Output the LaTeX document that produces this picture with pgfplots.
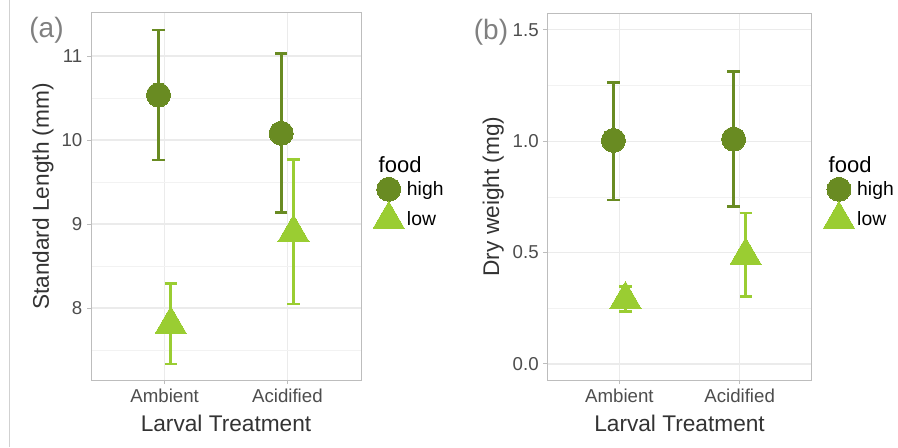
\documentclass[border=0pt]{standalone}
\usepackage{pgfplots}
\pgfplotsset{compat=1.18}
\usepackage{fontspec}
\setmainfont{Liberation Sans}
\definecolor{hi}{HTML}{698B22}
\definecolor{lo}{HTML}{9ACD32}
\definecolor{gridmaj}{HTML}{EBEBEB}
\definecolor{gridmin}{HTML}{F2F2F2}
\definecolor{borderc}{HTML}{BDBDBD}
\definecolor{tickc}{HTML}{4D4D4D}

\pgfplotsset{
  panel/.style={
    scale only axis,
    height=275.25pt,
    clip=false,
    xmin=0.4, xmax=2.6,
    xtick={1,2}, xticklabels={Ambient,Acidified},
    xtick pos=bottom, ytick pos=left,
    axis line style={borderc, line width=0.75pt},
    tick style={borderc, line width=0.75pt},
    tick align=outside, major tick length=3pt, minor tick length=0pt,
    grid=both,
    major grid style={gridmaj, line width=0.9pt},
    minor grid style={gridmin, line width=0.5pt},
    tick label style={font=\fontsize{14}{16}\selectfont, text=tickc},
    label style={font=\fontsize{17}{20}\selectfont, text=black!80},
    /pgf/number format/assume math mode=true,
    xlabel={Larval Treatment},
    xlabel style={at={(axis description cs:0.5,-0.117)}, anchor=center},
    legend style={draw=none, fill=none, anchor=north west,
      font=\fontsize{14.5}{17}\selectfont, inner sep=0pt, row sep=0pt},
    legend cell align=left,
  },
  hiplot/.style={color=hi, only marks, mark=*, mark size=9pt,
    mark options={fill=hi, draw=hi, line width=0pt},
    error bars/.cd, y dir=both, y explicit,
    error bar style={hi, line width=2pt},
    error mark options={hi, line width=2pt, mark size=4.6pt, rotate=90}},
  loplot/.style={color=lo, only marks, mark=triangle*, mark size=13.5pt,
    mark options={fill=lo, draw=lo, line width=0pt},
    error bars/.cd, y dir=both, y explicit,
    error bar style={lo, line width=2pt},
    error mark options={lo, line width=2pt, mark size=4.6pt, rotate=90}},
  hilegend/.style={color=hi, legend image code/.code={
    \path[draw=none] (0pt,-11.25pt) rectangle (24pt,11.25pt);
    \draw[hi, line width=2pt, overlay] (12pt,-10pt) -- (12pt,10pt);
    \path[fill=hi, draw=none, overlay] (12pt,0pt) circle (9pt);}},
  lolegend/.style={color=lo, legend image code/.code={
    \path[draw=none] (0pt,-11.25pt) rectangle (24pt,11.25pt);
    \path[fill=lo, draw=none, overlay] (12pt,13.2pt) -- (23.4pt,-6.6pt) -- (0.6pt,-6.6pt) -- cycle;}},
}

\begin{document}
\begin{tikzpicture}[x=0.75pt,y=0.75pt]
\path[use as bounding box] (0,0) rectangle (898,447);
\draw[black!18, line width=0.75pt] (9,0) -- (9,447);

% ---------------- panel (a)
\begin{axis}[panel,
  at={(68.25pt,50.25pt)}, anchor=south west,
  width=202.5pt,
  ymin=7.143, ymax=11.512,
  ytick={8,9,10,11}, minor ytick={7.5,8.5,9.5,10.5},
  ylabel={Standard Length (mm)},
  ylabel style={at={(axis description cs:-0.178,0.5)}, anchor=center},
  legend style={at={(axis description cs:1.044,0.553)}},
]
\addplot[hiplot] table[x=x, y=y, y error plus=ep, y error minus=em] {
x     y       ep     em
0.95  10.536  0.774  0.774
1.95  10.080  0.950  0.945
};
\addplot[loplot] table[x=x, y=y, y error plus=ep, y error minus=em] {
x     y       ep     em
1.05  7.805   0.485  0.472
2.05  8.897   0.873  0.849
};
\addlegendimage{hilegend}
\addlegendentry{high}
\addlegendimage{lolegend}
\addlegendentry{low}
\end{axis}

% ---------------- panel (b)
\begin{axis}[panel,
  at={(410.5pt,50.25pt)}, anchor=south west,
  width=198.3pt,
  ymin=-0.072, ymax=1.575,
  ytick={0,0.5,1,1.5}, yticklabels={0.0,0.5,1.0,1.5},
  minor ytick={0.25,0.75,1.25},
  ylabel={Dry weight (mg)},
  ylabel style={at={(axis description cs:-0.205,0.5)}, anchor=center},
  legend style={at={(axis description cs:1.043,0.553)}},
]
\addplot[hiplot] table[x=x, y=y, y error plus=ep, y error minus=em] {
x     y       ep     em
0.95  1.003   0.260  0.267
1.95  1.009   0.302  0.303
};
\addplot[loplot] table[x=x, y=y, y error plus=ep, y error minus=em] {
x     y       ep     em
1.05  0.290   0.057  0.055
2.05  0.487   0.190  0.185
};
\addlegendimage{hilegend}
\addlegendentry{high}
\addlegendimage{lolegend}
\addlegendentry{low}
\end{axis}

\node[anchor=west, font=\fontsize{16.5}{19}\selectfont] at (374,282) {food};
\node[anchor=west, font=\fontsize{16.5}{19}\selectfont] at (824,282) {food};
\node[font=\fontsize{21}{24}\selectfont, text=black!50] at (46.5,417) {(a)};
\node[font=\fontsize{21}{24}\selectfont, text=black!50] at (491,414.5) {(b)};
\end{tikzpicture}
\end{document}
